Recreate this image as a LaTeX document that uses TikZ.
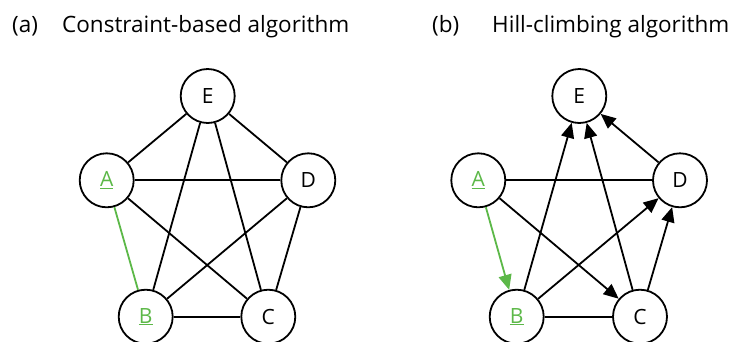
\documentclass[tikz,border=0pt]{standalone}
\usepackage{fontspec}
\setmainfont{Open Sans}
\usetikzlibrary{arrows.meta}
\definecolor{grn}{RGB}{92,184,72}
\begin{document}
\begin{tikzpicture}[x=1pt,y=-1pt,
  vnode/.style={circle,draw=black,line width=1.8pt,minimum size=54pt,inner sep=0pt,font=\fontsize{21}{24}\selectfont},
  edge/.style={line width=1.8pt},
  garrow/.style={line width=1.8pt,draw=grn,-{Triangle[length=15pt,width=13pt,fill=grn]}},
  darrow/.style={line width=1.8pt,-{Triangle[length=15pt,width=13pt]}},
  title/.style={anchor=base west,inner sep=0pt,font=\fontsize{22.5}{26}\selectfont}]
\useasboundingbox (0,0) rectangle (737,341);
% titles
\node[title] (ta) at (12,32) {(a)};
\node[title] (tb) at (62,32) {Constraint-based algorithm};
\node[title] (tc) at (432,32) {(b)};
\node[title] (td) at (492,32) {Hill-climbing algorithm};
% panel a
\node[vnode] (aE) at (207.7,96) {E};
\node[vnode] (aA) at (106.7,180.3) {\textcolor{grn}{\underline{A}}};
\node[vnode] (aD) at (308.3,180.3) {D};
\node[vnode] (aB) at (145.7,316.7) {\textcolor{grn}{\underline{B}}};
\node[vnode] (aC) at (268.3,316.7) {C};
\draw[edge] (aA) -- (aE);
\draw[edge] (aA) -- (aD);
\draw[edge] (aA) -- (aC);
\draw[edge,draw=grn] (aA) -- (aB);
\draw[edge] (aE) -- (aD);
\draw[edge] (aE) -- (aB);
\draw[edge] (aE) -- (aC);
\draw[edge] (aD) -- (aB);
\draw[edge] (aD) -- (aC);
\draw[edge] (aB) -- (aC);
% panel b
\node[vnode] (bE) at (579.3,96) {E};
\node[vnode] (bA) at (478.3,180.3) {\textcolor{grn}{\underline{A}}};
\node[vnode] (bD) at (680,180.3) {D};
\node[vnode] (bB) at (516.7,316.7) {\textcolor{grn}{\underline{B}}};
\node[vnode] (bC) at (640,316.7) {C};
\draw[edge] (bA) -- (bD);
\draw[garrow] (bA) -- (bB);
\draw[darrow] (bA) -- (bC);
\draw[darrow] (bB) -- (bE);
\draw[darrow] (bC) -- (bE);
\draw[darrow] (bD) -- (bE);
\draw[darrow] (bB) -- (bD);
\draw[darrow] (bC) -- (bD);
\draw[edge] (bB) -- (bC);
\end{tikzpicture}
\end{document}
